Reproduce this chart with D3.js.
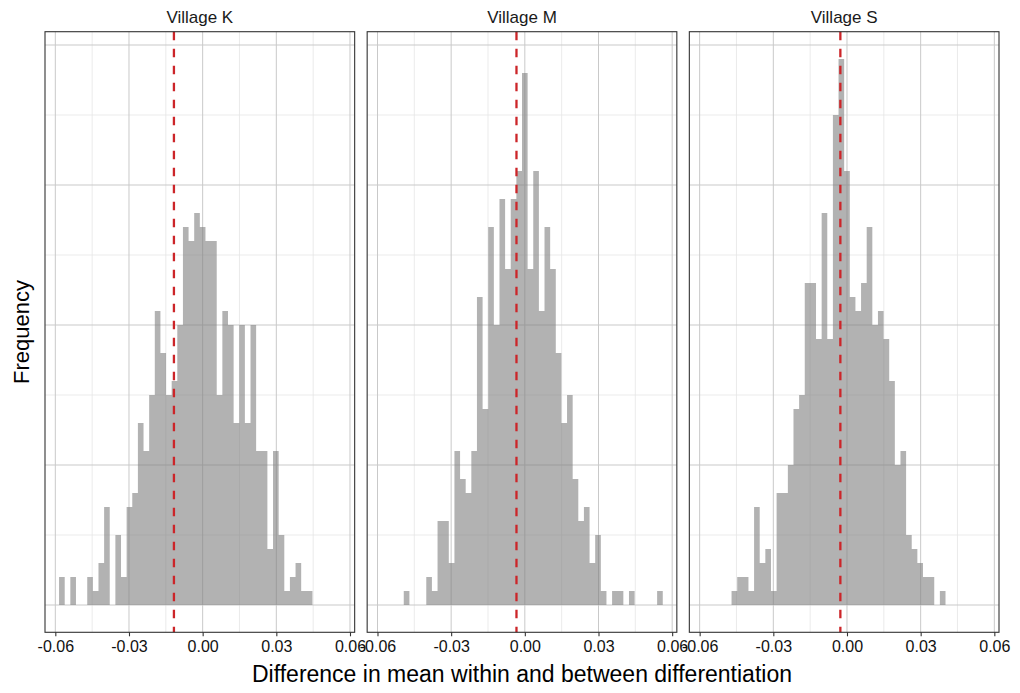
<!DOCTYPE html>
<html>
<head>
<meta charset="utf-8">
<script src="https://cdn.jsdelivr.net/npm/d3@7/dist/d3.min.js"></script>
<style>
  html, body { margin: 0; padding: 0; background: #fff; }
  svg { display: block; font-family: "Liberation Sans", Arial, sans-serif; }
</style>
</head>
<body>
<svg id="chart" width="1020" height="693"></svg>
<script>
// Permutation histograms: counts per bin (50 equal bins shared by all facets)
const villages = ["Village K", "Village M", "Village S"];
const binStart = -0.05847;
const binWidth = 0.0022928;
const countsK = [2,0,2,0,0,2,1,3,7,0,5,2,7,8,13,11,15,21,18,15,16,20,27,26,28,27,26,26,15,21,20,13,20,13,20,11,11,4,11,5,1,2,3,1,1,0,0,0,0,0];
const countsM = [0,0,0,0,1,0,0,0,2,1,6,6,3,11,9,8,11,22,14,27,20,29,24,29,31,38,24,31,21,27,24,18,13,15,9,6,7,3,5,1,0,1,1,0,1,0,0,0,0,1];
const countsS = [0,0,0,0,0,1,2,2,1,7,3,4,1,8,8,10,14,15,23,23,19,28,19,35,39,31,22,21,23,27,20,21,19,16,10,11,5,4,3,2,2,0,1,0,0,0,0,0,0,0];
// Observed difference for each village (dashed reference line)
const observed = [-0.0117, -0.0034, -0.0027];

const xMajor = [-0.06, -0.03, 0, 0.03, 0.06];
const xMinor = [-0.045, -0.015, 0.015, 0.045];
const yMajor = [0, 10, 20, 30, 40];
const yMinor = [5, 15, 25, 35];

const countsByVillage = [countsK, countsM, countsS];
const nBins = countsK.length;

const svg = d3.select("#chart");
const plotLeft = 45, plotRight = 999, gap = 12.5;
const panelW = (plotRight - plotLeft - 2 * gap) / 3;
const panelTop = 31.7, panelBottom = 632.3;

const binEnd = binStart + nBins * binWidth;
const xPad = (binEnd - binStart) * 0.05;
const maxCount = d3.max(countsByVillage.flat());
const yPad = maxCount * 0.05;

const y = d3.scaleLinear().domain([-yPad, maxCount + yPad]).range([panelBottom, panelTop]);

villages.forEach((name, p) => {
  const x0 = plotLeft + p * (panelW + gap);
  const x = d3.scaleLinear()
    .domain([binStart - xPad, binEnd + xPad])
    .range([x0, x0 + panelW]);
  const g = svg.append("g");

  g.append("rect")
    .attr("x", x0).attr("y", panelTop)
    .attr("width", panelW).attr("height", panelBottom - panelTop)
    .attr("fill", "#fff");

  // minor grid
  g.selectAll(".vminor").data(xMinor).join("line")
    .attr("x1", d => x(d)).attr("x2", d => x(d))
    .attr("y1", panelTop).attr("y2", panelBottom)
    .attr("stroke", "#e6e6e6").attr("stroke-width", 0.8);
  g.selectAll(".hminor").data(yMinor).join("line")
    .attr("x1", x0).attr("x2", x0 + panelW)
    .attr("y1", d => y(d)).attr("y2", d => y(d))
    .attr("stroke", "#e6e6e6").attr("stroke-width", 0.8);
  // major grid
  g.selectAll(".vmajor").data(xMajor).join("line")
    .attr("x1", d => x(d)).attr("x2", d => x(d))
    .attr("y1", panelTop).attr("y2", panelBottom)
    .attr("stroke", "#c9c9c9").attr("stroke-width", 1);
  g.selectAll(".hmajor").data(yMajor).join("line")
    .attr("x1", x0).attr("x2", x0 + panelW)
    .attr("y1", d => y(d)).attr("y2", d => y(d))
    .attr("stroke", "#c9c9c9").attr("stroke-width", 1);

  // histogram: one stepped outline per panel so adjacent bars join cleanly
  const pts = countsByVillage[p].map((c, i) => [binStart + i * binWidth, c]);
  pts.push([binEnd, 0]);
  const area = d3.area()
    .curve(d3.curveStepAfter)
    .x(d => x(d[0]))
    .y0(y(0))
    .y1(d => y(d[1]));
  g.append("path")
    .datum(pts)
    .attr("d", area)
    .attr("fill", "#7f7f7f")
    .attr("fill-opacity", 0.6);

  // observed value
  g.append("line")
    .attr("x1", x(observed[p])).attr("x2", x(observed[p]))
    .attr("y1", panelTop).attr("y2", panelBottom)
    .attr("stroke", "#cc2529").attr("stroke-width", 2.3)
    .attr("stroke-dasharray", "8.5,8.5");

  // border
  g.append("rect")
    .attr("x", x0).attr("y", panelTop)
    .attr("width", panelW).attr("height", panelBottom - panelTop)
    .attr("fill", "none").attr("stroke", "#333").attr("stroke-width", 1.1);

  // strip label
  svg.append("text")
    .attr("x", x0 + panelW / 2).attr("y", 23)
    .attr("text-anchor", "middle")
    .attr("font-size", 17).attr("fill", "#1a1a1a")
    .text(name);

  // x axis
  const axis = d3.axisBottom(x).tickValues(xMajor)
    .tickFormat(d3.format(".2f")).tickSizeInner(4).tickSizeOuter(0).tickPadding(4);
  const ag = svg.append("g").attr("transform", `translate(0,${panelBottom})`).call(axis);
  ag.select(".domain").remove();
  ag.selectAll(".tick line").attr("stroke", "#333").attr("stroke-width", 1.1);
  ag.selectAll(".tick text")
    .attr("font-size", 16).attr("fill", "#111")
    .attr("font-family", "Liberation Sans, Arial, sans-serif")
    .text(d => d3.format(".2f")(d).replace("−", "-"));
});

svg.append("text")
  .attr("x", (plotLeft + plotRight) / 2).attr("y", 682)
  .attr("text-anchor", "middle").attr("font-size", 23).attr("fill", "#000")
  .text("Difference in mean within and between differentiation");

svg.append("text")
  .attr("transform", `translate(29,${(panelTop + panelBottom) / 2}) rotate(-90)`)
  .attr("text-anchor", "middle").attr("font-size", 22).attr("fill", "#000")
  .text("Frequency");
</script>
</body>
</html>
